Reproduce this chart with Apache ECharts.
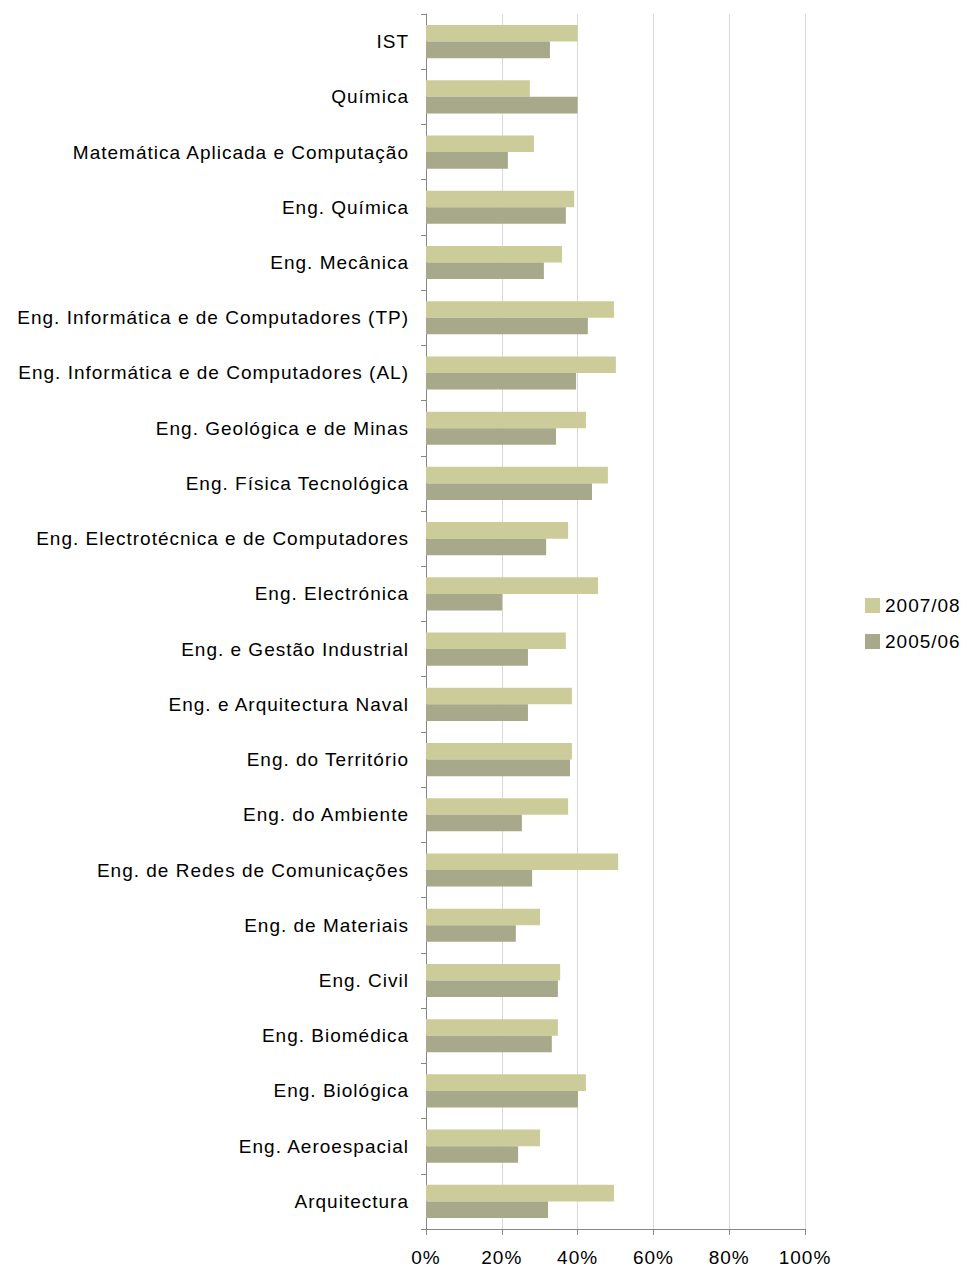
<!DOCTYPE html>
<html>
<head>
<meta charset="utf-8">
<script src="https://cdn.jsdelivr.net/npm/echarts@6/dist/echarts.min.js"></script>
<style>
  html, body { margin: 0; padding: 0; background: #fff; }
  #chart { width: 967px; height: 1270px; }
  #chart text { letter-spacing: 1px; }
</style>
</head>
<body>
<div id="chart"></div>
<script>
const categories = [
  "IST",
  "Química",
  "Matemática Aplicada e Computação",
  "Eng. Química",
  "Eng. Mecânica",
  "Eng. Informática e de Computadores (TP)",
  "Eng. Informática e de Computadores (AL)",
  "Eng. Geológica e de Minas",
  "Eng. Física Tecnológica",
  "Eng. Electrotécnica e de Computadores",
  "Eng. Electrónica",
  "Eng. e Gestão Industrial",
  "Eng. e Arquitectura Naval",
  "Eng. do Território",
  "Eng. do Ambiente",
  "Eng. de Redes de Comunicações",
  "Eng. de Materiais",
  "Eng. Civil",
  "Eng. Biomédica",
  "Eng. Biológica",
  "Eng. Aeroespacial",
  "Arquitectura"
];
const seriesNames = ["2007/08", "2005/06"];
const values0708 = [40.0, 27.4, 28.5, 39.1, 35.9, 49.6, 50.1, 42.2, 48.0, 37.5, 45.4, 36.9, 38.5, 38.5, 37.5, 50.7, 30.1, 35.4, 34.8, 42.2, 30.1, 49.6];
const values0506 = [32.7, 40.0, 21.6, 36.9, 31.1, 42.7, 39.6, 34.3, 43.8, 31.7, 20.1, 26.9, 26.9, 38.0, 25.3, 28.0, 23.7, 34.8, 33.2, 40.1, 24.3, 32.2];
const xTicks = [0, 20, 40, 60, 80, 100];

const chart = echarts.init(document.getElementById('chart'), null, { renderer: 'svg' });
const font = '"Liberation Sans", Arial, sans-serif';
chart.setOption({
  animation: false,
  backgroundColor: '#ffffff',
  textStyle: { fontFamily: font },
  grid: { left: 426, right: 162, top: 14, bottom: 41, containLabel: false },
  legend: {
    orient: 'vertical',
    left: 865,
    top: 596,
    padding: 0,
    itemWidth: 15,
    itemHeight: 15,
    itemGap: 17,
    icon: 'rect',
    textStyle: { fontSize: 19, color: '#000', fontFamily: font },
    data: seriesNames
  },
  xAxis: {
    type: 'value',
    min: xTicks[0],
    max: xTicks[xTicks.length - 1],
    interval: 20,
    axisLine: { show: true, lineStyle: { color: '#868686', width: 1 } },
    axisTick: { show: true, length: 6, lineStyle: { color: '#868686' } },
    axisLabel: { formatter: '{value}%', fontSize: 19, color: '#000', margin: 19, fontFamily: font },
    splitLine: { show: true, lineStyle: { color: '#d9d9d9', width: 1 } }
  },
  yAxis: {
    type: 'category',
    inverse: true,
    data: categories,
    axisLine: { show: true, lineStyle: { color: '#868686', width: 1 } },
    axisTick: { show: true, length: 5, alignWithLabel: false, lineStyle: { color: '#868686' } },
    axisLabel: { fontSize: 19, color: '#000', margin: 17, fontFamily: font },
    splitLine: { show: false }
  },
  series: [
    {
      name: seriesNames[0],
      type: 'bar',
      data: values0708,
      barGap: '0%',
      barCategoryGap: '40%',
      itemStyle: { color: '#cccc9a' }
    },
    {
      name: seriesNames[1],
      type: 'bar',
      data: values0506,
      barGap: '0%',
      barCategoryGap: '40%',
      itemStyle: { color: '#a8a88a' }
    }
  ]
});
</script>
</body>
</html>
